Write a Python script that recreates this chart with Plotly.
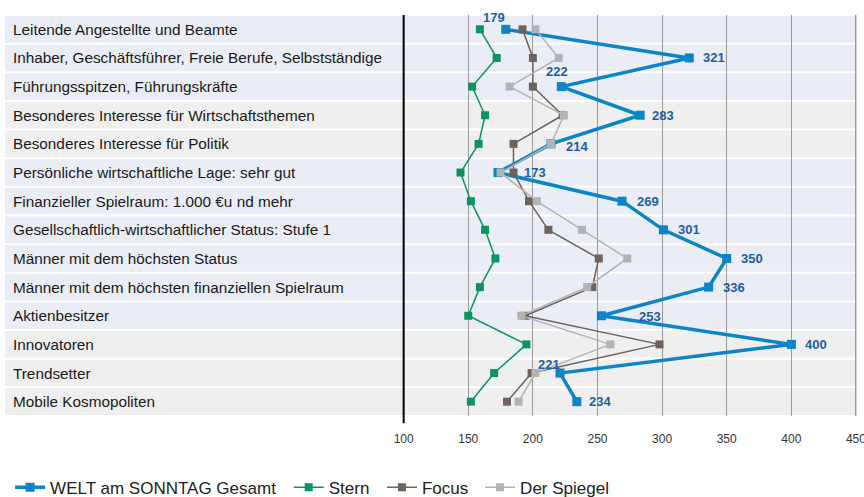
import plotly.graph_objects as go

categories = [
    "Leitende Angestellte und Beamte",
    "Inhaber, Geschäftsführer, Freie Berufe, Selbstständige",
    "Führungsspitzen, Führungskräfte",
    "Besonderes Interesse für Wirtschaftsthemen",
    "Besonderes Interesse für Politik",
    "Persönliche wirtschaftliche Lage: sehr gut",
    "Finanzieller Spielraum: 1.000 €u nd mehr",
    "Gesellschaftlich-wirtschaftlicher Status: Stufe 1",
    "Männer mit dem höchsten Status",
    "Männer mit dem höchsten finanziellen Spielraum",
    "Aktienbesitzer",
    "Innovatoren",
    "Trendsetter",
    "Mobile Kosmopoliten",
]
welt = [179, 321, 222, 283, 214, 173, 269, 301, 350, 336, 253, 400, 221, 234]
stern = [159, 172, 153, 163, 158, 144, 152, 163, 171, 159, 150, 195, 170, 152]
focus = [192, 200, 200, 223, 185, 185, 197, 212, 251, 246, 194, 298, 199, 180]
spiegel = [202, 220, 182, 224, 214, 175, 203, 238, 273, 242, 191, 260, 202, 189]
x_ticks = [100, 150, 200, 250, 300, 350, 400, 450]
series_names = ["WELT am SONNTAG Gesamt", "Stern", "Focus", "Der Spiegel"]

# styling
X_MIN, X_MAX = -208.5, 451.6
BAND_BLUE = "#eaedf6"
BAND_GRAY = "#efefef"
band_colors = [BAND_BLUE] * 3 + [BAND_GRAY] * 2 + [BAND_BLUE] * 6 + [BAND_GRAY] * 3
label_pos = [  # (xanchor, xshift, yshift) per WELT data label
    ("center", -12, 12), ("left", 12, 0), ("center", -4, 15), ("left", 10, 0),
    ("left", 13, -3), ("left", 24, 0), ("left", 13, 0), ("left", 13, 0),
    ("left", 12, 0), ("left", 12, 0), ("left", 36, -1), ("left", 12, 0),
    ("center", -11, 9), ("left", 10, 0),
]
legend_x = [0.006, 0.3326, 0.4419, 0.5570]
legend_ids = ["legend", "legend2", "legend3", "legend4"]

rows = list(range(len(categories)))
fig = go.Figure()

styles = [
    (welt, "#0b84c8", 3.5, 9),
    (stern, "#0a9460", 1.5, 8),
    (focus, "#6e625c", 1.5, 8),
    (spiegel, "#b3b3b3", 1.5, 8),
]
for (vals, col, lw, ms), name, lg in zip(styles, series_names, legend_ids):
    fig.add_trace(go.Scatter(
        x=vals, y=rows, name=name, mode="lines+markers",
        line=dict(color=col, width=lw),
        marker=dict(symbol="square", size=ms, color=col),
        hoverinfo="x+name", legend=lg,
    ))

shapes = []
for i, c in enumerate(band_colors):
    shapes.append(dict(type="rect", xref="x", yref="y", x0=X_MIN, x1=x_ticks[-1],
                       y0=i - 0.465, y1=i + 0.465, fillcolor=c,
                       line=dict(width=0), layer="below"))
# outermost grid line (plotly skips it at the plot edge)
shapes.append(dict(type="line", xref="x", yref="paper", x0=x_ticks[-1], x1=x_ticks[-1],
                   y0=0, y1=1, line=dict(color="#9a9a9a", width=1), layer="between"))
shapes.append(dict(type="line", xref="x", yref="paper", x0=100, x1=100,
                   y0=1.0, y1=-0.018, line=dict(color="#000000", width=2)))

annotations = []
for i, cat in enumerate(categories):
    annotations.append(dict(x=0, xref="paper", y=i, yref="y", text=cat,
                            showarrow=False, xanchor="left", xshift=6,
                            font=dict(family="Liberation Sans, Arial", size=15.3, color="#1a1a1a")))
for i, v in enumerate(welt):
    xa, xs, ys = label_pos[i]
    annotations.append(dict(x=v, y=i, xref="x", yref="y", text="<b>%d</b>" % v,
                            showarrow=False, xanchor=xa, xshift=xs, yshift=ys,
                            font=dict(family="Liberation Sans, Arial", size=13, color="#1d5fa6")))

legend_common = dict(orientation="h", xanchor="left", y=-0.134, yanchor="top",
                     font=dict(size=17, color="#222"), itemwidth=30,
                     bgcolor="rgba(0,0,0,0)")
legends = {lg: dict(x=lx, **legend_common) for lg, lx in zip(legend_ids, legend_x)}

fig.update_layout(
    width=864, height=497,
    margin=dict(l=5, r=6, t=15, b=81, autoexpand=False),
    paper_bgcolor="white", plot_bgcolor="white",
    shapes=shapes, annotations=annotations,
    font=dict(family="Liberation Sans, Arial", color="#222"),
    xaxis=dict(range=[X_MIN, X_MAX], tickvals=x_ticks, showgrid=True,
               gridcolor="#9a9a9a", gridwidth=1, zeroline=False, showline=False,
               ticks="outside", ticklen=12, tickcolor="rgba(0,0,0,0)",
               tickfont=dict(size=12, color="#333"), automargin=False,
               ticklabeloverflow="allow"),
    yaxis=dict(range=[13.5, -0.5], showticklabels=False, showgrid=False,
               zeroline=False, showline=False, automargin=False),
    showlegend=True,
    **legends,
)

fig.write_html("out.html", config={"displayModeBar": False},
               post_script="document.body.style.margin='0';document.body.style.overflow='hidden';")
